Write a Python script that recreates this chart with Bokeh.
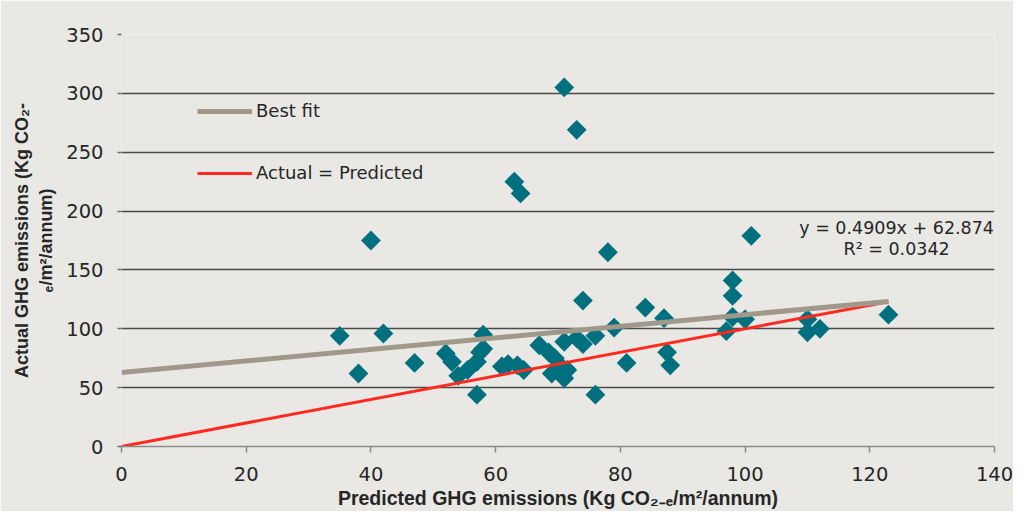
import numpy as np
from bokeh.plotting import figure
from bokeh.models import Range1d, FixedTicker, Legend, LegendItem, Label
from bokeh.embed import file_html
from bokeh.resources import INLINE

# ---- data ----
predicted = [35, 38, 40, 42, 47, 52, 53, 54, 55.5, 57, 57.5, 58, 58, 57,
             61, 62, 63.5, 64.5, 63, 64, 67, 68.5, 69.5, 70.5, 69, 71, 71.5,
             71, 73, 74, 76, 76, 71, 73, 74, 78, 79, 81, 84, 87, 87.5, 88,
             97, 98, 98, 98, 100, 101, 110, 110, 112, 123]
actual = [94, 62, 175, 96, 71, 79, 72, 60, 65, 72, 80, 83, 95, 44,
          68, 70, 69, 65, 225, 215, 86, 80, 75, 68, 62, 58, 65,
          89, 92, 87, 94, 44, 305, 269, 124, 165, 101, 71, 118, 109, 80, 69,
          98, 141, 128, 110, 108, 179, 108, 97, 100, 112]

fit_slope = 0.4909
fit_intercept = 62.874
line_x = [0, 123]
x_ticks = [0, 20, 40, 60, 80, 100, 120, 140]
y_ticks = [0, 50, 100, 150, 200, 250, 300, 350]
grid_ticks = [50, 100, 150, 200, 250, 300, 350]
equation_text = "y = 0.4909x + 62.874"
r2_text = "R\u00b2 = 0.0342"

BG = "#E9E8E4"
TEAL = "#00707F"
TXT = "#262626"

p = figure(width=1013, height=511, output_backend="svg", toolbar_location=None,
           x_range=Range1d(0, 140), y_range=Range1d(0, 350),
           min_border_left=121, min_border_right=19,
           min_border_top=34, min_border_bottom=64)
p.background_fill_color = BG
p.border_fill_color = BG
p.outline_line_color = None

# grid
p.xgrid.grid_line_color = None
p.ygrid.ticker = FixedTicker(ticks=grid_ticks)
p.ygrid.grid_line_color = "#4a4a4a"
p.ygrid.grid_line_width = 1.5

# x axis
p.xaxis.ticker = FixedTicker(ticks=x_ticks)
p.xaxis.axis_line_color = "#8a8a8a"
p.xaxis.axis_line_width = 1.5
p.xaxis.major_tick_line_color = "#8a8a8a"
p.xaxis.major_tick_line_width = 1.5
p.xaxis.major_tick_out = 6
p.xaxis.major_tick_in = 0
p.xaxis.minor_tick_line_color = None
p.xaxis.major_label_text_font = "DejaVu Sans"
p.xaxis.major_label_text_font_size = "19.5px"
p.xaxis.major_label_text_color = TXT
p.xaxis.major_label_standoff = 14
p.xaxis.axis_label = "Predicted GHG emissions (Kg CO\u2082\u208b\u2091/m\u00b2/annum)"
p.xaxis.axis_label_text_font = "Liberation Sans"
p.xaxis.axis_label_text_font_style = "bold"
p.xaxis.axis_label_text_font_size = "19.5px"
p.xaxis.axis_label_text_color = TXT
p.xaxis.axis_label_standoff = 3

# y axis
p.yaxis.ticker = FixedTicker(ticks=y_ticks)
p.yaxis.axis_line_color = None
p.yaxis.major_tick_line_color = "#6a6a6a"
p.yaxis.major_tick_line_width = 1.5
p.yaxis.major_tick_out = 4
p.yaxis.major_tick_in = 0
p.yaxis.minor_tick_line_color = None
p.yaxis.major_label_text_font = "DejaVu Sans"
p.yaxis.major_label_text_font_size = "19.5px"
p.yaxis.major_label_text_color = TXT
p.yaxis.major_label_standoff = 14
p.yaxis.axis_label = "Actual GHG emissions (Kg CO\u2082-\n\u2091/m\u00b2/annum)"
p.yaxis.axis_label_text_font = "Liberation Sans"
p.yaxis.axis_label_text_font_style = "bold"
p.yaxis.axis_label_text_font_size = "18px"
p.yaxis.axis_label_text_color = TXT
p.yaxis.axis_label_standoff = 7

# points
p.scatter(predicted, actual, marker="square", size=14, angle=np.pi / 4,
          fill_color=TEAL, line_color=None)

# lines
fit_y = [fit_slope * v + fit_intercept for v in line_x]
r_red = p.line(line_x, line_x, line_color="#FF2A1F", line_width=3)
r_fit = p.line(line_x, fit_y, line_color="#A0998A", line_width=5)

legend = Legend(items=[LegendItem(label="Best fit", renderers=[r_fit]),
                       LegendItem(label="Actual = Predicted", renderers=[r_red])],
                location=(76, 263), orientation="vertical",
                glyph_width=55, glyph_height=20, label_height=20,
                spacing=41, padding=0, margin=0, label_standoff=4,
                background_fill_alpha=0, border_line_color=None,
                label_text_font="DejaVu Sans", label_text_font_size="18px",
                label_text_color=TXT)
p.add_layout(legend)

for txt, yy in [(equation_text, 186.0), (r2_text, 168.0)]:
    p.add_layout(Label(x=124.3, y=yy, text=txt, text_align="center",
                       text_baseline="middle", text_font="DejaVu Sans",
                       text_font_size="17.5px", text_color=TXT))

open("out.html", "w").write(file_html(p, INLINE))
